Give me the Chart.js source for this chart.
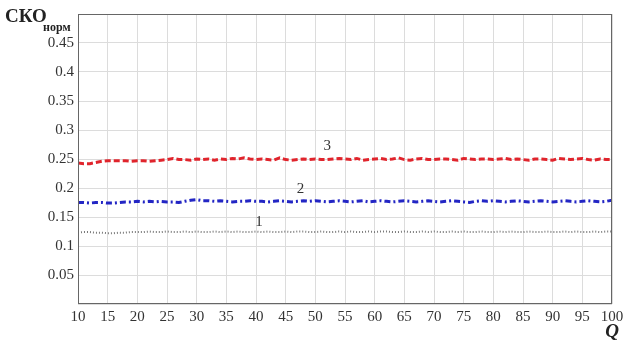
<!DOCTYPE html>
<html>
<head>
<meta charset="utf-8">
<script src="https://cdn.jsdelivr.net/npm/chart.js@4/dist/chart.umd.min.js"></script>
<style>
  html, body { margin: 0; padding: 0; background: #fff; }
  #wrap { width: 624px; height: 344px; position: relative; }
</style>
</head>
<body>
<div id="wrap"><canvas id="chart"></canvas></div>
<script>
// Q values 10..100
const qValues = [];
for (let q = 10; q <= 100; q++) qValues.push(q);

// curve 3 (red dashed)
const curve3 = [
  0.243,0.242,0.242,0.244,0.246,0.247,0.247,0.247,0.247,0.246,
  0.247,0.247,0.246,0.247,0.248,0.249,0.251,0.249,0.249,0.248,
  0.250,0.249,0.250,0.248,0.250,0.249,0.251,0.250,0.252,0.250,
  0.249,0.250,0.249,0.248,0.252,0.249,0.248,0.249,0.250,0.249,
  0.250,0.249,0.249,0.250,0.251,0.250,0.249,0.251,0.248,0.249,
  0.250,0.251,0.249,0.250,0.252,0.249,0.248,0.250,0.251,0.249,
  0.249,0.250,0.250,0.249,0.248,0.251,0.250,0.249,0.250,0.250,
  0.249,0.250,0.251,0.249,0.250,0.249,0.248,0.250,0.250,0.249,
  0.248,0.251,0.250,0.249,0.250,0.251,0.249,0.248,0.250,0.249,
  0.249
];

// curve 2 (blue dash-dot)
const curve2 = [
  0.175,0.175,0.174,0.175,0.175,0.174,0.174,0.175,0.176,0.176,
  0.177,0.176,0.177,0.176,0.177,0.176,0.176,0.175,0.177,0.179,
  0.180,0.178,0.178,0.177,0.178,0.177,0.176,0.177,0.177,0.178,
  0.177,0.177,0.176,0.177,0.178,0.177,0.176,0.177,0.178,0.177,
  0.178,0.177,0.176,0.177,0.178,0.177,0.176,0.177,0.178,0.176,
  0.177,0.178,0.177,0.176,0.177,0.178,0.177,0.176,0.177,0.178,
  0.177,0.176,0.177,0.178,0.177,0.176,0.175,0.177,0.178,0.177,
  0.178,0.177,0.176,0.177,0.178,0.177,0.176,0.177,0.178,0.177,
  0.176,0.177,0.178,0.177,0.176,0.177,0.178,0.177,0.176,0.177,
  0.179
];

// curve 1 (gray dotted)
const curve1 = [
  0.123,0.124,0.124,0.123,0.123,0.122,0.122,0.123,0.123,0.124,
  0.124,0.124,0.125,0.124,0.124,0.125,0.124,0.124,0.125,0.124,
  0.125,0.124,0.124,0.125,0.124,0.125,0.124,0.125,0.124,0.124,
  0.125,0.124,0.125,0.124,0.124,0.125,0.124,0.125,0.125,0.124,
  0.124,0.125,0.124,0.124,0.125,0.124,0.125,0.124,0.124,0.125,
  0.124,0.125,0.125,0.124,0.124,0.125,0.124,0.124,0.125,0.124,
  0.125,0.124,0.124,0.125,0.124,0.125,0.124,0.124,0.125,0.124,
  0.124,0.125,0.124,0.125,0.124,0.124,0.125,0.124,0.124,0.125,
  0.124,0.124,0.125,0.124,0.125,0.124,0.124,0.125,0.124,0.125,
  0.125
];

// curve number labels, in data coordinates
const curveLabels = ['1', '2', '3'];
const curveLabelQ = [40.5, 47.5, 52];
const curveLabelY = [0.142, 0.199, 0.272];

const yTicksShown = [0.05, 0.1, 0.15, 0.2, 0.25, 0.3, 0.35, 0.4, 0.45];

const serif = '"Liberation Serif", "DejaVu Serif", serif';

function toPoints(arr) {
  return arr.map((v, i) => ({ x: qValues[i], y: v }));
}

// draws the axis titles and curve numbers
const annotations = {
  id: 'annotations',
  afterDraw(chart) {
    const ctx = chart.ctx;
    const xs = chart.scales.x, ys = chart.scales.y;
    ctx.save();
    ctx.fillStyle = '#222';
    ctx.textBaseline = 'alphabetic';
    ctx.font = 'bold 19px ' + serif;
    ctx.fillText('СКО', 5, 22);
    ctx.font = 'bold 12px ' + serif;
    ctx.fillText('норм', 43, 31);
    ctx.font = 'italic bold 19px ' + serif;
    ctx.textAlign = 'center';
    ctx.fillText('Q', 612, 337);
    ctx.font = '15px ' + serif;
    ctx.fillStyle = '#333';
    ctx.textBaseline = 'middle';
    curveLabels.forEach((t, i) => {
      ctx.fillText(t, xs.getPixelForValue(curveLabelQ[i]), ys.getPixelForValue(curveLabelY[i]));
    });
    // frame
    const a = chart.chartArea;
    ctx.strokeStyle = '#666';
    ctx.lineWidth = 1;
    ctx.strokeRect(a.left + 0.5, a.top + 0.5, a.right - a.left - 1, a.bottom - a.top - 1);
    ctx.restore();
  }
};

new Chart(document.getElementById('chart').getContext('2d'), {
  type: 'line',
  data: {
    datasets: [
      {
        data: toPoints(curve3),
        borderColor: '#e0242c',
        borderWidth: 3,
        borderDash: [6, 3],
        pointRadius: 0,
        tension: 0
      },
      {
        data: toPoints(curve2),
        borderColor: '#2326c4',
        borderWidth: 3,
        borderDash: [6, 3, 2, 3],
        pointRadius: 0,
        tension: 0
      },
      {
        data: toPoints(curve1),
        borderColor: '#7a7a7a',
        borderWidth: 2,
        borderDash: [1, 2],
        pointRadius: 0,
        tension: 0
      }
    ]
  },
  options: {
    responsive: true,
    maintainAspectRatio: false,
    animation: false,
    layout: { padding: { top: 14, right: 0, left: 0, bottom: 0 } },
    plugins: {
      legend: { display: false },
      tooltip: { enabled: false }
    },
    scales: {
      x: {
        type: 'linear',
        min: 10,
        max: 100,
        border: { display: false },
        grid: { color: '#dcdcdc', drawTicks: false },
        ticks: {
          stepSize: 5,
          padding: 4,
          color: '#333',
          font: { family: serif, size: 15 },
          maxRotation: 0,
          autoSkip: false
        },
        afterFit(scale) {
          scale.height = 40;
          scale.paddingRight = 12;
          scale.paddingLeft = 0;
        }
      },
      y: {
        min: 0,
        max: 0.5,
        border: { display: false },
        grid: { color: '#dcdcdc', drawTicks: false },
        ticks: {
          stepSize: 0.05,
          padding: 4,
          color: '#333',
          font: { family: serif, size: 15 },
          callback(v) {
            const r = Math.round(v * 100) / 100;
            return yTicksShown.includes(r) ? String(r) : '';
          }
        },
        afterFit(scale) {
          scale.width = 78;
          scale.paddingTop = 0;
          scale.paddingBottom = 0;
        }
      }
    }
  },
  plugins: [annotations]
});
</script>
</body>
</html>
